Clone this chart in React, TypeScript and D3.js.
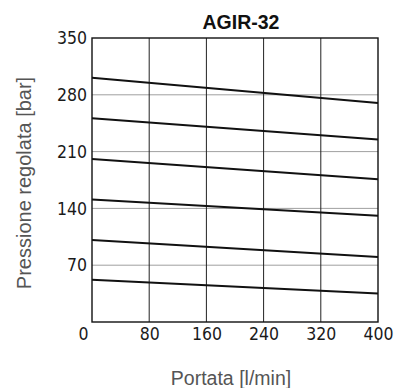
import React, { useEffect, useRef } from 'react'
import * as d3 from 'd3'

// flow rate [l/min] at which each curve is read
const flowPoints = [0, 400]
// regulated pressure [bar] of each curve, read at 0 and 400 l/min
const pressureAt0 = [301, 251, 201, 151, 101, 52]
const pressureAt400 = [270, 225, 176, 131, 80, 35]

const xTicks = [0, 80, 160, 240, 320, 400]
const yTicks = [70, 140, 210, 280, 350]

const W = 394
const H = 388
const margin = { top: 38, right: 16, bottom: 66, left: 92 }

const tickFont = '"Liberation Sans Narrow", "DejaVu Sans Condensed", sans-serif'
const labelFont = '"Liberation Sans", Arial, sans-serif'

export default function App() {
    const xRef = useRef<SVGGElement>(null)
    const yRef = useRef<SVGGElement>(null)

    const w = W - margin.left - margin.right
    const h = H - margin.top - margin.bottom

    const x = d3.scaleLinear().domain([0, 400]).range([0, w])
    const y = d3.scaleLinear().domain([0, 350]).range([h, 0])

    const curves = pressureAt0.map((p, i) => [
        [flowPoints[0], p],
        [flowPoints[1], pressureAt400[i]],
    ])
    const line = d3.line<number[]>().x(d => x(d[0])).y(d => y(d[1]))

    useEffect(() => {
        const xAxis = d3.axisBottom(x).tickValues(xTicks).tickSize(0).tickPadding(6)
        const gx = d3.select(xRef.current!).call(xAxis)
        gx.select('.domain').remove()
        gx.selectAll('text')
            .attr('font-family', tickFont)
            .attr('font-size', 17.5)
            .attr('fill', '#1a1a1a')
            .attr('y', 6)
            .attr('dy', '0.71em')
        // the zero label sits left of the frame corner
        gx.selectAll<SVGTextElement, number>('text')
            .filter(d => d === 0)
            .attr('text-anchor', 'end')
            .attr('x', -4)

        const yAxis = d3.axisLeft(y).tickValues(yTicks).tickSize(0).tickPadding(5)
        const gy = d3.select(yRef.current!).call(yAxis)
        gy.select('.domain').remove()
        gy.selectAll('text')
            .attr('font-family', tickFont)
            .attr('font-size', 17.5)
            .attr('fill', '#1a1a1a')
    }, [])

    return (
        <svg width={W} height={H} style={{ position: 'absolute', left: 0, top: 0, background: '#fff' }}>
            <text x={241} y={29} textAnchor="middle" fontFamily={labelFont} fontWeight="bold" fontSize={19.5} fill="#111">
                AGIR-32
            </text>
            <g transform={`translate(${margin.left},${margin.top})`}>
                {yTicks.filter(t => t < 350).map(t => (
                    <line key={'h' + t} x1={0} x2={w} y1={y(t)} y2={y(t)} stroke="#888" strokeWidth={0.8} />
                ))}
                {xTicks.filter(t => t > 0 && t < 400).map(t => (
                    <line key={'v' + t} x1={x(t)} x2={x(t)} y1={0} y2={h} stroke="#222" strokeWidth={1} />
                ))}
                <rect x={0} y={0} width={w} height={h} fill="none" stroke="#111" strokeWidth={1.4} />
                {curves.map((c, i) => (
                    <path key={i} d={line(c) || ''} fill="none" stroke="#111" strokeWidth={2} />
                ))}
                <g ref={xRef} transform={`translate(0,${h})`} />
                <g ref={yRef} />
            </g>
            <text x={231} y={385} textAnchor="middle" fontFamily={labelFont} fontSize={19.5} fill="#555">
                Portata [l/min]
            </text>
            <text
                transform={`translate(31,${margin.top + h / 2 + 3}) rotate(-90)`}
                textAnchor="middle"
                fontFamily={labelFont}
                fontSize={20}
                fill="#555"
            >
                Pressione regolata [bar]
            </text>
        </svg>
    )
}
